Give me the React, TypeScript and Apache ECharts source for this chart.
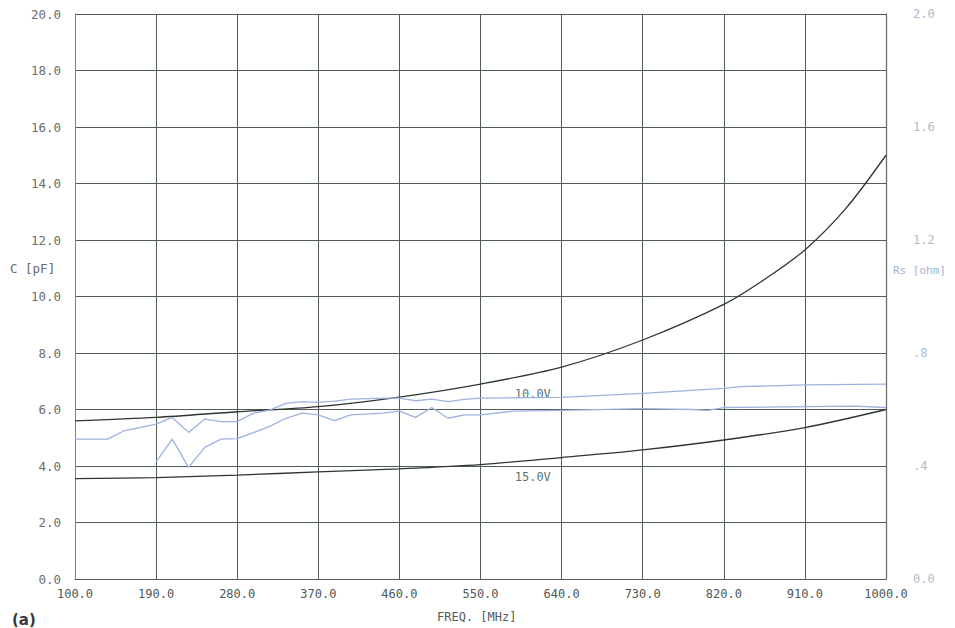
import React, { useEffect, useRef } from "react";
import * as echarts from "echarts";

// Capacitance curves (C, pF) on the left axis
const cUpperFreq = [100, 190, 280, 370, 460, 550, 640, 730, 820, 865, 910, 955, 1000];
const cUpperVal = [5.6, 5.72, 5.92, 6.1, 6.44, 6.9, 7.5, 8.46, 9.72, 10.6, 11.65, 13.1, 15.0];
const cLowerFreq = [100, 190, 280, 370, 460, 550, 640, 730, 820, 910, 1000];
const cLowerVal = [3.55, 3.59, 3.68, 3.79, 3.9, 4.05, 4.3, 4.57, 4.92, 5.36, 6.0];

// Series resistance curves (Rs, ohm) on the right axis
const rsAFreq = [100, 136, 154, 172, 190, 208, 226, 244, 262, 280, 298, 316, 334, 352, 370, 388, 406, 442, 460, 478, 496, 514, 532, 550, 640, 730, 820, 838, 910, 1000];
const rsAVal = [0.495, 0.495, 0.524, 0.536, 0.548, 0.572, 0.519, 0.566, 0.557, 0.557, 0.587, 0.598, 0.622, 0.628, 0.625, 0.63, 0.637, 0.64, 0.64, 0.631, 0.637, 0.628, 0.636, 0.64, 0.643, 0.657, 0.675, 0.681, 0.687, 0.69];
const rsBFreq = [190, 208, 226, 244, 262, 280, 298, 316, 334, 352, 370, 388, 406, 442, 460, 478, 496, 514, 532, 550, 586, 640, 730, 784, 802, 820, 910, 964, 1000];
const rsBVal = [0.415, 0.495, 0.395, 0.466, 0.495, 0.497, 0.518, 0.54, 0.569, 0.587, 0.581, 0.561, 0.581, 0.587, 0.594, 0.572, 0.607, 0.569, 0.581, 0.581, 0.594, 0.597, 0.603, 0.6, 0.597, 0.607, 0.61, 0.612, 0.607];

const xMinFreq = 100;
const xMaxFreq = 1000;
const xStep = 90;
const cMax = 20;
const cStep = 2;
const rsMax = 2;
const rsStep = 0.4;

const curveLabels = [
  { text: "10.0V", freq: 608, c: 6.55 },
  { text: "15.0V", freq: 608, c: 3.62 },
];

const MONO = "'DejaVu Sans Mono', 'Liberation Mono', monospace";

function pairs(f: number[], v: number[]) {
  return f.map((x, i) => [x - xMinFreq, v[i]]);
}

function fmtRs(v: number) {
  if (Math.abs(v) < 1e-9) return "0.0";
  if (v < 1) return "." + Math.round(v * 10);
  return v.toFixed(1);
}

export default function App() {
  const ref = useRef<HTMLDivElement>(null);
  useEffect(() => {
    if (!ref.current) return;
    const chart = echarts.init(ref.current, undefined, { renderer: "svg" });
    const gridColor = "#4f5d54";
    const darkLine = "#2f3631";
    const blue = "#9db2de";
    chart.setOption({
      animation: false,
      backgroundColor: "#ffffff",
      grid: { left: 75, right: 69, top: 14, bottom: 49 },
      xAxis: {
        type: "value",
        min: 0,
        max: xMaxFreq - xMinFreq,
        interval: xStep,
        axisLine: { show: true, lineStyle: { color: gridColor, width: 1 } },
        axisTick: { show: false },
        splitLine: { show: true, lineStyle: { color: gridColor, width: 1 } },
        axisLabel: {
          margin: 9,
          color: "#4e5858",
          fontFamily: MONO,
          fontSize: 12,
          formatter: (v: number) => (v + xMinFreq).toFixed(1),
        },
      },
      yAxis: [
        {
          type: "value",
          min: 0,
          max: cMax,
          interval: cStep,
          position: "left",
          axisLine: { show: true, lineStyle: { color: "#6f8a70", width: 1 } },
          axisTick: { show: false },
          splitLine: { show: true, lineStyle: { color: gridColor, width: 1 } },
          axisLabel: {
            margin: 14,
            color: "#6a6e6e",
            fontFamily: MONO,
            fontSize: 12.5,
            formatter: (v: number) => v.toFixed(1),
          },
        },
        {
          type: "value",
          min: 0,
          max: rsMax,
          interval: rsStep,
          position: "right",
          axisLine: { show: true, lineStyle: { color: "#6b6f6d", width: 1.3 } },
          axisTick: { show: false },
          splitLine: { show: false },
          axisLabel: {
            margin: 27,
            color: "#aebbd0",
            fontFamily: MONO,
            fontSize: 12,
            formatter: fmtRs,
          },
        },
      ],
      series: [
        {
          name: "C upper",
          type: "line",
          yAxisIndex: 0,
          data: pairs(cUpperFreq, cUpperVal),
          smooth: 0.3,
          showSymbol: false,
          lineStyle: { color: darkLine, width: 1.3 },
        },
        {
          name: "C lower",
          type: "line",
          yAxisIndex: 0,
          data: pairs(cLowerFreq, cLowerVal),
          smooth: 0.3,
          showSymbol: false,
          lineStyle: { color: darkLine, width: 1.3 },
        },
        {
          name: "Rs A",
          type: "line",
          yAxisIndex: 1,
          data: pairs(rsAFreq, rsAVal),
          showSymbol: false,
          lineStyle: { color: blue, width: 1.3 },
        },
        {
          name: "Rs B",
          type: "line",
          yAxisIndex: 1,
          data: pairs(rsBFreq, rsBVal),
          showSymbol: false,
          lineStyle: { color: blue, width: 1.3 },
        },
        {
          name: "labels",
          type: "scatter",
          yAxisIndex: 0,
          symbolSize: 0,
          silent: true,
          data: curveLabels.map((l) => ({
            value: [l.freq - xMinFreq, l.c],
            label: {
              show: true,
              formatter: l.text,
              position: "inside",
              color: "#2c4a48",
              fontFamily: MONO,
              fontSize: 12,
            },
          })),
        },
      ],
      graphic: [
        {
          type: "text",
          left: 10,
          top: 262,
          style: { text: "C [pF]", fill: "#666a6a", font: "12.5px " + MONO },
        },
        {
          type: "text",
          left: 893,
          top: 265,
          style: { text: "Rs [ohm]", fill: "#9fb3d6", font: "11px " + MONO },
        },
        {
          type: "text",
          left: 437,
          top: 611,
          style: { text: "FREQ. [MHz]", fill: "#555c5c", font: "12px " + MONO },
        },
        {
          type: "text",
          left: 12,
          top: 612,
          style: { text: "(a)", fill: "#3a3a3a", font: "bold 15px 'DejaVu Sans', sans-serif" },
        },
      ],
    });
    return () => chart.dispose();
  }, []);
  return (
    <div
      ref={ref}
      style={{ position: "absolute", left: 0, top: 0, width: 955, height: 628 }}
    />
  );
}
